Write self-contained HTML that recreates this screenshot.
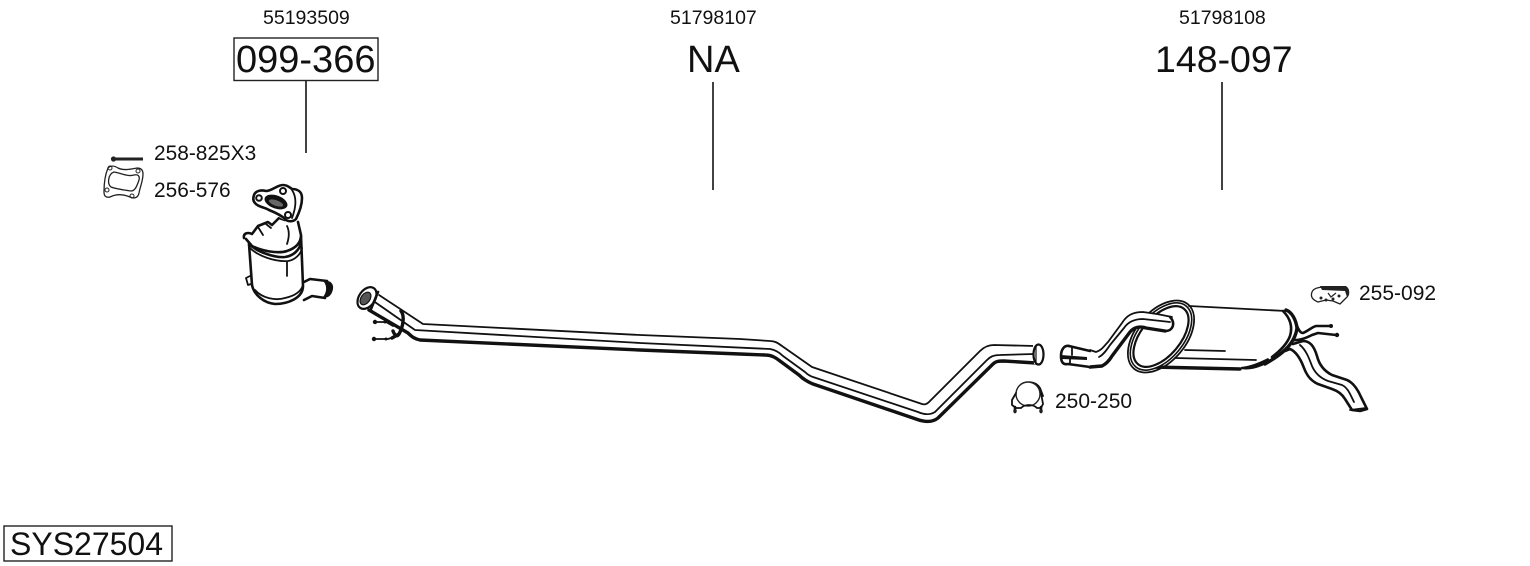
<!DOCTYPE html>
<html><head><meta charset="utf-8"><style>
html,body{margin:0;padding:0;background:#fff;width:1530px;height:566px;overflow:hidden}
svg{display:block}
text{font-family:"Liberation Sans",sans-serif;fill:#111}
.l{fill:none;stroke:#111;stroke-width:1.800;stroke-linejoin:round;stroke-linecap:round}
.m{fill:none;stroke:#111;stroke-width:2.600;stroke-linejoin:round;stroke-linecap:round}
.h{fill:none;stroke:#111;stroke-width:3.400;stroke-linejoin:round;stroke-linecap:round}
.t{stroke:#222;stroke-width:1.300;fill:none;stroke-linejoin:round}
.w{fill:#fff}
</style></head><body>
<svg width="1530" height="566" viewBox="0 0 1530 566" xmlns="http://www.w3.org/2000/svg">
<text x="263" y="24" font-size="19.500">55193509</text>
<text x="670" y="24" font-size="19.500">51798107</text>
<text x="1179" y="24" font-size="19.500">51798108</text>
<rect x="234" y="38" width="144" height="42.500" fill="none" stroke="#222" stroke-width="1.400"/>
<text x="236" y="72" font-size="38">099-366</text>
<text x="687" y="72" font-size="38">NA</text>
<text x="1155" y="72" font-size="37.500">148-097</text>
<path d="M306 81V153M713 82V190M1222 82V190" stroke="#222" stroke-width="1.700" fill="none"/>
<text x="154" y="160" font-size="20.900">258-825X3</text>
<text x="154" y="197" font-size="20.900">256-576</text>
<text x="1359" y="300" font-size="21">255-092</text>
<text x="1055" y="408" font-size="21">250-250</text>
<rect x="4" y="526" width="168" height="35" fill="none" stroke="#222" stroke-width="1.400"/>
<text x="10" y="555" font-size="32">SYS27504</text>

<!-- bolt -->
<path d="M115 159H143" stroke="#222" stroke-width="3"/>
<circle cx="113.500" cy="159" r="2.600" fill="#222"/>
<!-- gasket -->
<path class="t" d="M108 168C111 165 115 166 118 168C124 171 131 169 137 168C141 168 143 170 143 174C143 181 140 187 139 193C138 198 134 199 130 197C123 194 116 194 110 197C106 198 104 196 104 192C104 184 105 175 108 168Z"/>
<path class="t" d="M114 172C121 173 128 177 134 175C138 174 140 176 139 180C137 186 135 191 131 191C124 190 116 189 111 187C107 184 108 174 114 172Z"/>
<g fill="none" stroke="#222" stroke-width="1"><circle cx="110" cy="168" r="2"/><circle cx="138" cy="171" r="2"/><circle cx="107" cy="190" r="2"/><circle cx="132" cy="196" r="2"/></g>

<!-- catalyst -->
<path class="w" d="M308 281L329 280L333 288L329 296L312 299L306 301L302 287Z"/>
<path class="m" d="M304 282L310 279L327 281M304 300L312 296L325 298"/>
<path d="M324 282C330 279 334 284 333 289C332 295 328 299 323 297C327 292 327 286 324 282Z" fill="#111"/>
<path class="w" d="M248 238L250 285C252 295 262 303 274 304C288 304 302 298 303 286L302 238L290 226L260 225Z"/>
<path class="m" d="M249 244L252 285C254 295 264 303 275 304C288 304 303 298 303 286L301 236"/>
<path class="l" d="M255 290C262 298 275 301 285 298C294 296 301 292 303 285"/>
<path class="m" d="M249 244C257 252 275 258 285 257C293 256 300 250 301 242"/>
<path class="l" d="M250 248C258 256 275 262 288 261C295 260 301 254 302 248"/>
<path class="l" d="M287 262L287 276M250 276L246 278L248 285L251 284"/>
<path class="w" d="M244 238L246 233L252 234L258 226L268 222L280 218L288 222L298 218L302 238L290 252L270 250L252 244Z"/>
<path class="m" d="M244 238C243 233 248 232 252 234L258 226L263 224L268 222L272 225L279 218L285 220"/>
<path class="m" d="M246 239L252 246C262 251 278 254 287 251C296 248 301 243 301 235L298 222"/>
<path class="l" d="M287 226C290 232 289 238 287 244M258 227L263 235M266 224L271 228"/>
<path class="w" d="M254 196L262 190L280 185L294 190L302 193L302 207L295 221L286 221L272 213L260 206L253 201Z"/>
<path class="m" d="M254 195C256 190 262 190 266 191C272 191 277 185 283 185C288 185 290 188 292 189C298 189 302 192 302 198C302 206 299 213 296 219C293 222 288 222 285 219C281 215 274 212 269 210C264 207 258 207 255 203C253 201 253 198 254 195Z"/>
<path class="l" d="M292 190C296 196 297 205 292 218"/>
<ellipse cx="276" cy="202" rx="12" ry="6.500" transform="rotate(20 276 202)" fill="#111"/>
<ellipse cx="276" cy="203" rx="7.500" ry="2.800" transform="rotate(20 276 203)" fill="#666"/>
<g fill="#fff" stroke="#111" stroke-width="2"><circle cx="259" cy="198" r="2.800"/><circle cx="283" cy="191" r="3"/><circle cx="288" cy="215" r="3"/></g>

<!-- front pipe -->
<path class="l" d="M376 293L423 324L640 335L740 339L770 341C775 341 778 343 782 346L812 367L922 404C925 405 927 404 929 402L980 351C984 347 988 345 994 345L1035 346"/>
<path class="h" d="M369 310L408 333C412 337 415 339 420 340L640 350L740 354L765 355C772 355 776 358 780 361L799 375C803 379 808 382 813 384L916 419C924 422 932 423 938 418L993 364C996 361 999 361 1004 361L1036 363"/>
<path class="l" d="M372 300L415 330L640 343L770 349C776 350 780 353 783 356L805 372C807 374 810 376 813 377L918 412C925 415 930 415 935 412L987 360C990 357 993 355 1000 355L1034 354"/>
<path class="w" d="M1033 345L1040 344L1044 350L1043 360L1039 365L1034 364Z"/>
<ellipse cx="1038.500" cy="354.500" rx="5" ry="10" fill="#fff" stroke="#111" stroke-width="2.200"/>
<path d="M1036 345V364" stroke="#111" stroke-width="1.200"/>
<path class="w" d="M357 298L363 289L373 288L379 294L371 308L364 309Z"/>
<ellipse cx="367" cy="298" rx="12" ry="8" transform="rotate(-55 367 298)" fill="#fff" stroke="#111" stroke-width="2.200"/>
<ellipse cx="365.500" cy="298.500" rx="7" ry="4.500" transform="rotate(-55 365.500 298.500)" fill="#555" stroke="#111" stroke-width="1.200"/>
<path class="m" d="M378 292L371 309"/>
<path class="h" d="M401 311C405 316 403 327 399 334C397 337 395 336 393 331M399 334L392 338"/>
<path class="l" d="M376 322H386L393 326M375 339H388L394 337"/>
<g fill="#111"><circle cx="375" cy="322" r="2.200"/><circle cx="374" cy="339" r="2.200"/><circle cx="385" cy="322" r="1.500"/><circle cx="386" cy="339" r="1.500"/></g>

<!-- clamp -->
<path class="l" d="M1018 388C1022 382 1034 379 1040 388L1043 396"/>
<circle cx="1028" cy="394" r="12" fill="#fff" stroke="#222" stroke-width="1.400"/>
<path class="l" d="M1016 393L1012 400L1012 405L1016 408H1021C1025 404 1033 404 1037 408H1041L1043 404L1041 393"/>
<path class="m" d="M1015 407V412M1041 407V412"/>
<circle cx="1015" cy="411" r="1.800" fill="#222"/><circle cx="1041" cy="411" r="1.800" fill="#222"/>

<!-- hanger -->
<path class="t" d="M1312 292C1314 287 1322 287 1328 287L1346 288C1350 290 1349 296 1346 298L1340 304L1333 301L1326 300L1318 302C1313 300 1310 297 1312 292Z" stroke-width="1.500"/>
<path d="M1320 286H1346C1350 289 1350 293 1347 297L1345 291L1322 290Z" fill="#222"/>
<g fill="#222"><circle cx="1321" cy="298" r="1.500"/><circle cx="1326" cy="300" r="1.500"/><circle cx="1333" cy="299" r="1.500"/><circle cx="1339" cy="296" r="1.500"/></g>
<path d="M1328 293L1331 297L1336 293" fill="none" stroke="#222" stroke-width="1.200"/>

<!-- tailpipe & hooks -->
<path class="m" d="M1296 323C1298 329 1300 333 1303 333C1308 331 1312 327 1316 326L1330 326"/>
<path class="m" d="M1291 340C1299 341 1306 338 1312 335L1318 333L1336 335"/>
<circle cx="1331" cy="326" r="2" fill="#111"/><circle cx="1337" cy="335" r="2.200" fill="#111"/>
<path class="m" d="M1293 344L1303 341C1310 341 1314 346 1317 356C1319 364 1324 371 1332 375L1347 380C1354 383 1358 390 1361 397L1367 409L1360 411L1352 410L1345 399C1342 394 1338 391 1332 389L1318 384C1311 381 1307 376 1304 368C1301 360 1297 352 1290 349L1285 351"/>
<path class="l" d="M1300 345C1306 350 1309 358 1312 366C1315 373 1320 378 1328 381L1342 385C1348 388 1350 394 1354 402M1350 410L1366 408"/>

<!-- muffler body -->
<path class="w" d="M1175 304L1286 311L1297 326L1296 336L1285 352L1265 365L1245 371L1155 367L1140 366Z"/>
<path class="l" d="M1189 306L1286 311"/>
<path class="h" d="M1286 310C1292 312 1296 320 1297 328C1296 336 1292 343 1286 349C1280 355 1272 360 1265 364"/>
<path class="m" d="M1283 311C1290 318 1293 326 1290 336C1287 344 1280 351 1272 357"/>
<path class="h" d="M1152 367L1240 369"/>
<path d="M1241 369C1252 371 1264 366 1271 361L1268 358C1258 363 1250 366 1241 367Z" fill="#111"/>
<path class="l" d="M1185 350L1225 351M1175 358L1256 360"/>
<!-- end ring -->
<ellipse cx="1161" cy="336.500" rx="42" ry="25" transform="rotate(-50 1161 336.500)" fill="none" stroke="#111" stroke-width="1.800"/>
<ellipse cx="1161" cy="336.500" rx="39.500" ry="22.500" transform="rotate(-50 1161 336.500)" fill="#fff" stroke="#111" stroke-width="1.600"/>
<ellipse cx="1161" cy="336.500" rx="36" ry="19.500" transform="rotate(-50 1161 336.500)" fill="#fff" stroke="#111" stroke-width="2.200"/>
<!-- inlet pipe -->
<path class="w" d="M1090 351L1104 347L1125 320C1130 314 1136 313 1145 313L1172 317L1174 328L1166 331L1142 326L1132 331L1108 363L1090 366Z"/>
<path class="l" d="M1090 350L1096 352C1102 350 1104 346 1108 342L1122 323C1127 315 1133 312 1143 312L1157 314L1172 317"/>
<path class="h" d="M1090 367L1102 366C1106 364 1109 361 1112 356L1130 332C1134 327 1140 326 1146 328L1165 331"/>
<path class="l" d="M1099 357C1103 355 1106 351 1110 345L1124 328C1128 322 1134 319 1143 319L1170 322"/>
<path class="m" d="M1170 317C1174 321 1174 326 1171 329C1169 331 1167 331 1165 331"/>
<path class="w" d="M1062 349L1070 346L1090 352L1090 366L1070 364L1062 365Z"/>
<path class="m" d="M1069 346C1064 345 1061 350 1061 356C1061 362 1063 365 1068 364L1090 367"/>
<path class="m" d="M1069 346L1090 351"/>
<path d="M1061 355L1087 357L1087 360L1062 359Z" fill="#111"/>
<path class="l" d="M1072 347L1072 355M1070 359L1070 364"/>
</svg>
</body></html>
